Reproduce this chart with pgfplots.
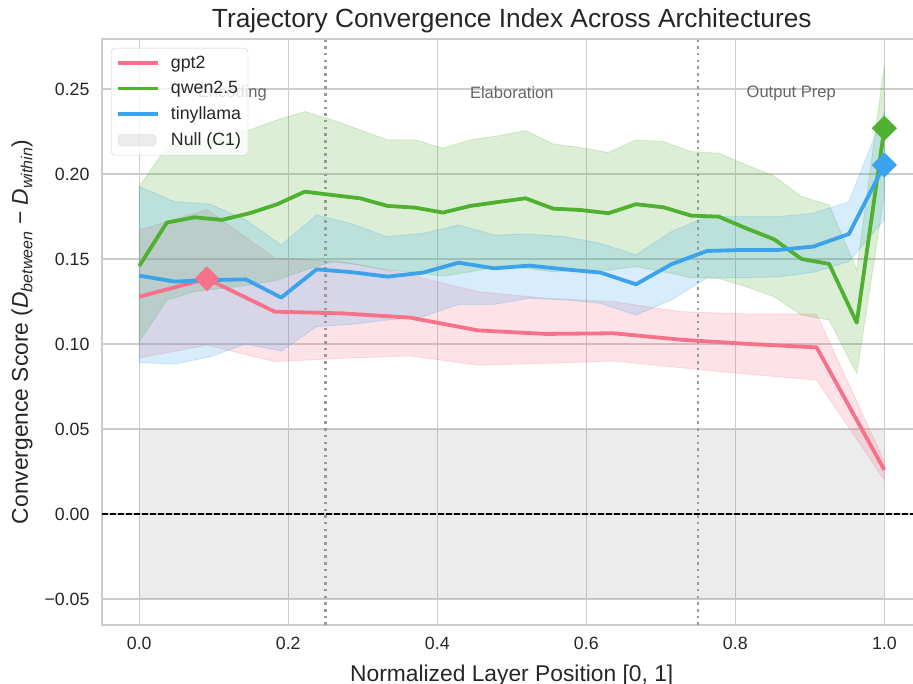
\documentclass[border=0pt]{standalone}
\usepackage{fontspec}
\setmainfont{Liberation Sans}
\usepackage{pgfplots}
\pgfplotsset{compat=1.18}
\usepackage{pgfplotstable}
\usepgfplotslibrary{fillbetween}
\usetikzlibrary{calc}

\definecolor{cgpt}{HTML}{F77189}
\definecolor{cqwen}{HTML}{50B131}
\definecolor{ctiny}{HTML}{3BA3EC}
\definecolor{gridc}{HTML}{CCCCCC}
\definecolor{txt}{HTML}{262626}
\definecolor{phase}{HTML}{666666}
\definecolor{dotc}{HTML}{9A9A9A}

\pgfplotstableread{
x y lo hi
0.0000 0.1278 0.0918 0.1670
0.0909 0.1384 0.0994 0.1790
0.1818 0.1190 0.0896 0.1506
0.2727 0.1180 0.0916 0.1484
0.3636 0.1155 0.0930 0.1406
0.4545 0.1080 0.0876 0.1308
0.5455 0.1059 0.0886 0.1269
0.6364 0.1063 0.0900 0.1249
0.7273 0.1025 0.0860 0.1190
0.8182 0.1000 0.0822 0.1176
0.9091 0.0980 0.0788 0.1176
1.0000 0.0259 0.0200 0.0308
}\gpt

\pgfplotstableread{
x y lo hi
0.0000 0.1459 0.1014 0.1925
0.0370 0.1714 0.1259 0.2160
0.0741 0.1745 0.1308 0.2180
0.1111 0.1730 0.1327 0.2220
0.1481 0.1769 0.1347 0.2259
0.1852 0.1822 0.1376 0.2318
0.2222 0.1896 0.1435 0.2367
0.2593 0.1876 0.1484 0.2318
0.2963 0.1857 0.1465 0.2259
0.3333 0.1812 0.1435 0.2200
0.3704 0.1802 0.1420 0.2200
0.4074 0.1773 0.1400 0.2151
0.4444 0.1812 0.1425 0.2200
0.4815 0.1835 0.1455 0.2224
0.5185 0.1857 0.1445 0.2255
0.5556 0.1796 0.1425 0.2176
0.5926 0.1788 0.1435 0.2155
0.6296 0.1769 0.1435 0.2126
0.6667 0.1822 0.1455 0.2200
0.7037 0.1804 0.1425 0.2190
0.7407 0.1755 0.1390 0.2131
0.7778 0.1749 0.1386 0.2122
0.8148 0.1680 0.1337 0.2053
0.8519 0.1616 0.1278 0.1988
0.8889 0.1500 0.1170 0.1867
0.9259 0.1471 0.1141 0.1818
0.9630 0.1125 0.0827 0.1435
1.0000 0.2269 0.1880 0.2641
}\qwen

\pgfplotstableread{
x y lo hi
0.0000 0.1402 0.0890 0.1925
0.0476 0.1367 0.0882 0.1837
0.0952 0.1376 0.0925 0.1822
0.1429 0.1380 0.1000 0.1730
0.1905 0.1273 0.0959 0.1582
0.2381 0.1439 0.1102 0.1759
0.2857 0.1422 0.1116 0.1706
0.3333 0.1396 0.1141 0.1631
0.3810 0.1420 0.1161 0.1651
0.4286 0.1478 0.1233 0.1700
0.4762 0.1445 0.1233 0.1641
0.5238 0.1461 0.1269 0.1647
0.5714 0.1439 0.1259 0.1631
0.6190 0.1420 0.1239 0.1592
0.6667 0.1351 0.1170 0.1524
0.7143 0.1469 0.1259 0.1661
0.7619 0.1547 0.1390 0.1749
0.8095 0.1553 0.1390 0.1749
0.8571 0.1553 0.1394 0.1749
0.9048 0.1573 0.1422 0.1769
0.9524 0.1647 0.1484 0.1837
1.0000 0.2053 0.1730 0.2367
}\tiny

\begin{document}
\begin{tikzpicture}
\begin{axis}[
  name=ax,
  scale only axis,
  width=819.6pt, height=586pt,
  xmin=-0.05, xmax=1.05, ymin=-0.0653, ymax=0.2794,
  axis line style={draw=gridc, line width=1.5pt},
  tick style={draw=none},
  grid=major,
  major grid style={draw=gridc, line width=1.2pt},
  xtick={0,0.2,0.4,0.6,0.8,1},
  xticklabels={0.0,0.2,0.4,0.6,0.8,1.0},
  ytick={-0.05,0,0.05,0.1,0.15,0.2,0.25},
  yticklabels={−0.05,0.00,0.05,0.10,0.15,0.20,0.25},
  ticklabel style={font=\fontsize{17.75}{20}\selectfont, text=txt},
  xticklabel style={yshift=-9pt},
  yticklabel style={xshift=-9pt},
  xlabel={Normalized Layer Position [0, 1]},
  ylabel={Convergence Score (\textit{D}\textsubscript{\textit{between}} − \textit{D}\textsubscript{\textit{within}})},
  xlabel style={font=\fontsize{22.8}{26}\selectfont, text=txt, at={(axis description cs:0.5,-0.0956)}, anchor=base},
  ylabel style={font=\fontsize{22.8}{26}\selectfont, text=txt, at={(axis description cs:-0.0903,0.5)}, anchor=base, rotate=0},
  title={Trajectory Convergence Index Across Architectures},
  title style={font=\fontsize{26.3}{29}\selectfont, text=txt, at={(axis description cs:0.5,1.009)}, anchor=base},
  legend style={at={(axis description cs:0,1)}, anchor=north west, xshift=9pt, yshift=-9pt,
    draw=gridc, rounded corners=4pt, fill=white, fill opacity=0.8, text opacity=1,
    font=\fontsize{17.75}{20}\selectfont, text=txt, cells={anchor=west},
    inner xsep=5pt, inner ysep=6pt, row sep=7.5pt,
    /tikz/every odd column/.append style={column sep=9pt}},
  legend cell align=left,
]
% null band
\addplot[draw=none, name path=nlo, forget plot] coordinates {(0,-0.05) (1,-0.05)};
\addplot[draw=none, name path=nhi, forget plot] coordinates {(0,0.05) (1,0.05)};
\addplot[fill=gray, fill opacity=0.15, draw=none, forget plot] fill between[of=nhi and nlo];

% bands
\addplot[draw=none, name path=glo, forget plot] table[x=x,y=lo] {\gpt};
\addplot[draw=none, name path=ghi, forget plot] table[x=x,y=hi] {\gpt};
\addplot[fill=cgpt, fill opacity=0.2, draw=cgpt, draw opacity=0.2, line width=1pt, forget plot] fill between[of=ghi and glo];
\addplot[draw=none, name path=qlo, forget plot] table[x=x,y=lo] {\qwen};
\addplot[draw=none, name path=qhi, forget plot] table[x=x,y=hi] {\qwen};
\addplot[fill=cqwen, fill opacity=0.2, draw=cqwen, draw opacity=0.2, line width=1pt, forget plot] fill between[of=qhi and qlo];
\addplot[draw=none, name path=tlo, forget plot] table[x=x,y=lo] {\tiny};
\addplot[draw=none, name path=thi, forget plot] table[x=x,y=hi] {\tiny};
\addplot[fill=ctiny, fill opacity=0.2, draw=ctiny, draw opacity=0.2, line width=1pt, forget plot] fill between[of=thi and tlo];

% reference lines
\draw[black, line width=1.5pt, dash pattern=on 5.6pt off 2.4pt] (axis cs:-0.05,0) -- (axis cs:1.05,0);
\draw[dotc, line width=2.5pt, dash pattern=on 2.5pt off 4.2pt] (axis cs:0.25,-0.0653) -- (axis cs:0.25,0.2794);
\draw[dotc, line width=2.5pt, dash pattern=on 2.5pt off 4.2pt] (axis cs:0.75,-0.0653) -- (axis cs:0.75,0.2794);

% lines
\addplot[cgpt, line width=3.8pt, line join=round, forget plot] table[x=x,y=y] {\gpt};
\addplot[cqwen, line width=3.8pt, line join=round, forget plot] table[x=x,y=y] {\qwen};
\addplot[ctiny, line width=3.8pt, line join=round, forget plot] table[x=x,y=y] {\tiny};

% peak markers
\addplot[only marks, mark=square*, mark size=8.6pt, mark options={rotate=45, fill=cgpt, draw=cgpt}, forget plot] coordinates {(0.0909,0.1384)};
\addplot[only marks, mark=square*, mark size=8.6pt, mark options={rotate=45, fill=cqwen, draw=cqwen}, forget plot] coordinates {(1.0,0.2269)};
\addplot[only marks, mark=square*, mark size=8.6pt, mark options={rotate=45, fill=ctiny, draw=ctiny}, forget plot] coordinates {(1.0,0.2053)};

% phase labels
\node[text=phase, font=\fontsize{16.5}{19}\selectfont] at (axis cs:0.125,0.2476) {Encoding};
\node[text=phase, font=\fontsize{16.5}{19}\selectfont] at (axis cs:0.5,0.2476) {Elaboration};
\node[text=phase, font=\fontsize{16.5}{19}\selectfont] at (axis cs:0.875,0.2476) {Output Prep};

% legend
\addlegendimage{legend image code/.code={\draw[cgpt, line width=3.8pt] (0pt,0pt) -- (40pt,0pt);}}
\addlegendentry{gpt2}
\addlegendimage{legend image code/.code={\draw[cqwen, line width=3.8pt] (0pt,0pt) -- (40pt,0pt);}}
\addlegendentry{qwen2.5}
\addlegendimage{legend image code/.code={\draw[ctiny, line width=3.8pt] (0pt,0pt) -- (40pt,0pt);}}
\addlegendentry{tinyllama}
\addlegendimage{legend image code/.code={\fill[gray, fill opacity=0.15, draw=gray, draw opacity=0.2] (0pt,-6pt) rectangle (38pt,6pt);}}
\addlegendentry{Null (C1)}
\end{axis}
\pgfresetboundingbox
\path[use as bounding box] ($(ax.south west)+(-102pt,-59pt)$) rectangle ($(ax.north west)+(811pt,39pt)$);
\end{tikzpicture}
\end{document}
